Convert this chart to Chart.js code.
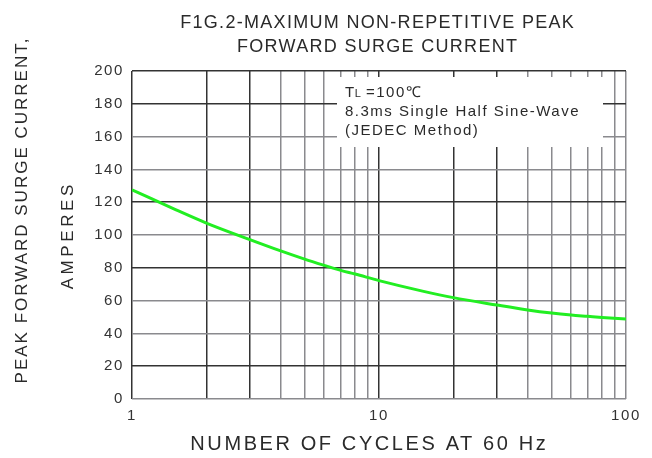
<!DOCTYPE html>
<html>
<head>
<meta charset="utf-8">
<script src="https://cdn.jsdelivr.net/npm/chart.js@4.4.1/dist/chart.umd.min.js"></script>
<style>
html,body{margin:0;padding:0;background:#fff;}
#wrap{width:652px;height:458px;}
</style>
</head>
<body>
<div id="wrap"><canvas id="c" width="652" height="458"></canvas></div>
<script>
const cycles = [1, 1.5, 2, 3, 4, 5, 6, 7, 8, 10, 15, 20, 30, 40, 50, 60, 70, 80, 100];
const current = [127.5, 115.5, 107.3, 97.2, 90.3, 85.3, 81.5, 78.4, 76.2, 72.2, 65.8, 61.8, 57.3, 54.3, 52.4, 51.2, 50.4, 49.7, 48.8];
const xGridTicks = [1,2,3,4,5,6,7,8,9,10,20,30,40,50,60,70,80,90,100];
const xLabelTicks = [1, 10, 100];
const yTicks = [0,20,40,60,80,100,120,140,160,180,200];
const xDarkLines = [1,2,3,10,20,30];
const yDarkLines = [20,80,120,180,200];
const titleLines = ["F1G.2-MAXIMUM NON-REPETITIVE PEAK", "FORWARD SURGE CURRENT"];
const xTitle = "NUMBER OF CYCLES AT 60 Hz";
const yTitle1 = "PEAK FORWARD SURGE CURRENT,";
const yTitle2 = "AMPERES";
const noteLines = ["8.3ms Single Half Sine-Wave", "(JEDEC Method)"];

const FONT = '"Liberation Sans", Arial, sans-serif';

function spaced(ctx, text, x, y, spacing) {
  ctx.letterSpacing = spacing + 'px';
  const w = ctx.measureText(text).width - spacing;
  ctx.textAlign = 'left';
  ctx.fillText(text, x - w / 2, y);
}

const decor = {
  id: 'decor',
  beforeDraw(chart) {
    chart.ctx.letterSpacing = '1.6px';
  },
  beforeDatasetsDraw(chart) {
    const ctx = chart.ctx;
    ctx.save();
    ctx.fillStyle = '#fff';
    ctx.fillRect(337, 77, 266, 70);
    ctx.restore();
  },
  afterDraw(chart) {
    const ctx = chart.ctx;
    ctx.save();
    ctx.fillStyle = '#2a2a2a';
    ctx.textBaseline = 'alphabetic';
    // title
    ctx.font = '18px ' + FONT;
    spaced(ctx, titleLines[0], 377, 28, 1.3);
    spaced(ctx, titleLines[1], 377, 52, 1.3);
    // x title
    ctx.font = '20px ' + FONT;
    spaced(ctx, xTitle, 368, 450, 2.6);
    // y titles
    ctx.font = '17px ' + FONT;
    ctx.save();
    ctx.translate(27, 211);
    ctx.rotate(-Math.PI/2);
    spaced(ctx, yTitle1, 0, 0, 2);
    ctx.restore();
    ctx.save();
    ctx.translate(73, 237);
    ctx.rotate(-Math.PI/2);
    spaced(ctx, yTitle2, 0, 0, 3.6);
    ctx.restore();
    // note
    ctx.textAlign = 'left';
    ctx.letterSpacing = '1.5px';
    ctx.font = '15px ' + FONT;
    ctx.fillText('T', 345, 97);
    let w = ctx.measureText('T').width;
    ctx.font = '11px ' + FONT;
    ctx.letterSpacing = '0.5px';
    ctx.fillText('L', 345 + w - 1, 97);
    let w2 = ctx.measureText('L').width;
    ctx.font = '15px ' + FONT;
    ctx.letterSpacing = '1.5px';
    ctx.fillText(' =100\u2103', 345 + w + w2 - 2, 97);
    ctx.fillText(noteLines[0], 345, 116);
    ctx.fillText(noteLines[1], 345, 135);
    ctx.restore();
  }
};

new Chart(document.getElementById('c'), {
  type: 'line',
  data: {
    datasets: [{
      data: cycles.map((x, i) => ({x: x, y: current[i]})),
      borderColor: '#22ee22',
      borderWidth: 3,
      pointRadius: 0,
      cubicInterpolationMode: 'monotone',
      fill: false
    }]
  },
  options: {
    responsive: false,
    animation: false,
    layout: {padding: {left: 0, right: 26, top: 71, bottom: 0}},
    plugins: {legend: {display: false}, tooltip: {enabled: false}, title: {display: false}},
    scales: {
      x: {
        type: 'logarithmic',
        min: 1, max: 100,
        afterBuildTicks(s) { s.ticks = xGridTicks.map(v => ({value: v})); },
        afterFit(s) { s.height = 59; },
        border: {display: false},
        grid: {
          drawTicks: false,
          lineWidth: 1.5,
          color: c => xDarkLines.includes(c.tick && c.tick.value) ? '#333' : '#8a8a8e'
        },
        ticks: {
          autoSkip: false,
          maxRotation: 0,
          padding: 8,
          color: '#333',
          font: {family: FONT, size: 15},
          callback: v => xLabelTicks.includes(v) ? String(v) : ''
        }
      },
      y: {
        min: 0, max: 200,
        afterBuildTicks(s) { s.ticks = yTicks.map(v => ({value: v})); },
        afterFit(s) { s.width = 132; },
        border: {display: false},
        grid: {
          drawTicks: false,
          lineWidth: 1.5,
          color: c => yDarkLines.includes(c.tick && c.tick.value) ? '#333' : '#8a8a8e'
        },
        ticks: {
          padding: 8,
          color: '#333',
          font: {family: FONT, size: 15},
          callback: v => String(v)
        }
      }
    }
  },
  plugins: [decor]
});
</script>
</body>
</html>
